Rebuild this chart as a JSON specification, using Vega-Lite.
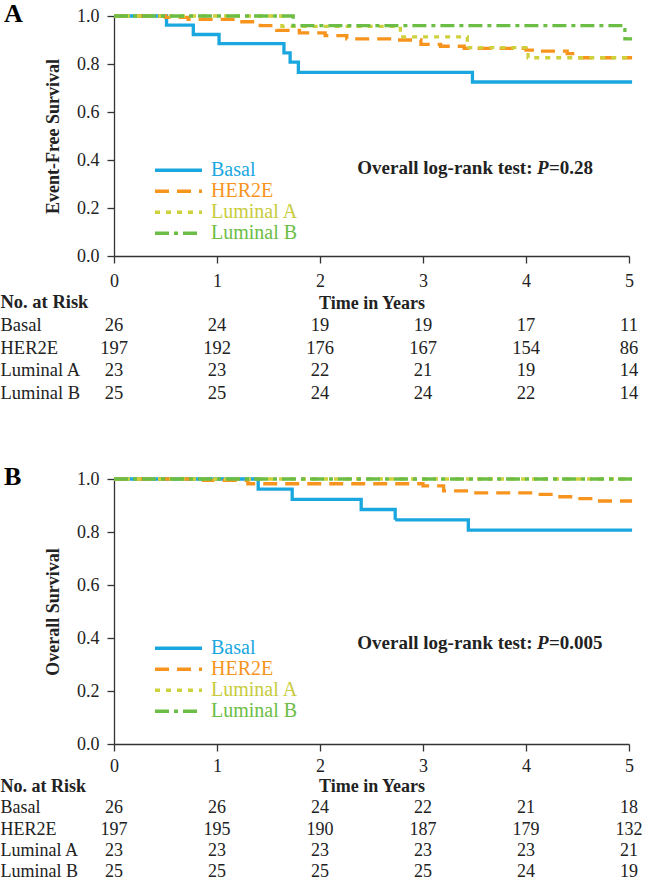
{
  "$schema": "https://vega.github.io/schema/vega-lite/v6.json",
  "background": "white",
  "padding": {"top": 0, "left": 0, "right": 4, "bottom": 0},
  "bounds": "flush",
  "spacing": 32,
  "config": {
    "view": {"stroke": null},
    "axis": {
      "grid": false,
      "domainColor": "#333",
      "domainWidth": 1.3,
      "tickColor": "#333",
      "tickWidth": 1.3,
      "tickSize": 7,
      "labelFont": "Liberation Serif",
      "labelFontSize": 18,
      "labelColor": "#222",
      "titleFont": "Liberation Serif",
      "titleFontSize": 18,
      "titleFontWeight": "bold",
      "titleColor": "#222"
    }
  },
  "resolve": {
    "scale": {"color": "independent", "strokeDash": "independent", "x": "independent", "y": "independent"},
    "legend": {"color": "independent", "strokeDash": "independent"}
  },
  "datasets": {
    "efs": [
      {"group": "Basal", "t": 0, "s": 1},
      {"group": "Basal", "t": 0.51, "s": 0.962},
      {"group": "Basal", "t": 0.77, "s": 0.923},
      {"group": "Basal", "t": 1.02, "s": 0.885},
      {"group": "Basal", "t": 1.65, "s": 0.846},
      {"group": "Basal", "t": 1.71, "s": 0.808},
      {"group": "Basal", "t": 1.79, "s": 0.765},
      {"group": "Basal", "t": 3.48, "s": 0.725},
      {"group": "Basal", "t": 5.03, "s": 0.725},
      {"group": "HER2E", "t": 0, "s": 1},
      {"group": "HER2E", "t": 0.5, "s": 0.994},
      {"group": "HER2E", "t": 0.72, "s": 0.986},
      {"group": "HER2E", "t": 1.22, "s": 0.976},
      {"group": "HER2E", "t": 1.42, "s": 0.96},
      {"group": "HER2E", "t": 1.58, "s": 0.94},
      {"group": "HER2E", "t": 1.8, "s": 0.93},
      {"group": "HER2E", "t": 2.05, "s": 0.918},
      {"group": "HER2E", "t": 2.26, "s": 0.905},
      {"group": "HER2E", "t": 2.73, "s": 0.9},
      {"group": "HER2E", "t": 2.98, "s": 0.882},
      {"group": "HER2E", "t": 3.17, "s": 0.874},
      {"group": "HER2E", "t": 3.4, "s": 0.865},
      {"group": "HER2E", "t": 4.0, "s": 0.858},
      {"group": "HER2E", "t": 4.14, "s": 0.854},
      {"group": "HER2E", "t": 4.4, "s": 0.843},
      {"group": "HER2E", "t": 4.47, "s": 0.826},
      {"group": "HER2E", "t": 5.03, "s": 0.826},
      {"group": "Luminal A", "t": 0, "s": 1},
      {"group": "Luminal A", "t": 1.63, "s": 0.957},
      {"group": "Luminal A", "t": 2.78, "s": 0.913},
      {"group": "Luminal A", "t": 3.43, "s": 0.868},
      {"group": "Luminal A", "t": 4.02, "s": 0.826},
      {"group": "Luminal A", "t": 5.03, "s": 0.826},
      {"group": "Luminal B", "t": 0, "s": 1},
      {"group": "Luminal B", "t": 1.74, "s": 0.96},
      {"group": "Luminal B", "t": 4.96, "s": 0.905},
      {"group": "Luminal B", "t": 5.03, "s": 0.905}
    ],
    "os": [
      {"group": "Basal", "t": 0, "s": 1},
      {"group": "Basal", "t": 1.4, "s": 0.962},
      {"group": "Basal", "t": 1.73, "s": 0.923},
      {"group": "Basal", "t": 2.4, "s": 0.885},
      {"group": "Basal", "t": 2.73, "s": 0.846},
      {"group": "Basal", "t": 3.44, "s": 0.807},
      {"group": "Basal", "t": 5.03, "s": 0.807},
      {"group": "HER2E", "t": 0, "s": 1},
      {"group": "HER2E", "t": 0.87, "s": 0.995},
      {"group": "HER2E", "t": 1.3, "s": 0.982},
      {"group": "HER2E", "t": 3.0, "s": 0.974},
      {"group": "HER2E", "t": 3.2, "s": 0.955},
      {"group": "HER2E", "t": 3.45, "s": 0.948},
      {"group": "HER2E", "t": 4.07, "s": 0.942},
      {"group": "HER2E", "t": 4.26, "s": 0.933},
      {"group": "HER2E", "t": 4.46, "s": 0.926},
      {"group": "HER2E", "t": 4.69, "s": 0.917},
      {"group": "HER2E", "t": 5.03, "s": 0.917},
      {"group": "Luminal A", "t": 0, "s": 1},
      {"group": "Luminal A", "t": 5.03, "s": 1},
      {"group": "Luminal B", "t": 0, "s": 1},
      {"group": "Luminal B", "t": 5.03, "s": 1}
    ],
    "riskA": [
      {"group": "Basal", "t": 0, "n": 26}, {"group": "Basal", "t": 1, "n": 24}, {"group": "Basal", "t": 2, "n": 19}, {"group": "Basal", "t": 3, "n": 19}, {"group": "Basal", "t": 4, "n": 17}, {"group": "Basal", "t": 5, "n": 11},
      {"group": "HER2E", "t": 0, "n": 197}, {"group": "HER2E", "t": 1, "n": 192}, {"group": "HER2E", "t": 2, "n": 176}, {"group": "HER2E", "t": 3, "n": 167}, {"group": "HER2E", "t": 4, "n": 154}, {"group": "HER2E", "t": 5, "n": 86},
      {"group": "Luminal A", "t": 0, "n": 23}, {"group": "Luminal A", "t": 1, "n": 23}, {"group": "Luminal A", "t": 2, "n": 22}, {"group": "Luminal A", "t": 3, "n": 21}, {"group": "Luminal A", "t": 4, "n": 19}, {"group": "Luminal A", "t": 5, "n": 14},
      {"group": "Luminal B", "t": 0, "n": 25}, {"group": "Luminal B", "t": 1, "n": 25}, {"group": "Luminal B", "t": 2, "n": 24}, {"group": "Luminal B", "t": 3, "n": 24}, {"group": "Luminal B", "t": 4, "n": 22}, {"group": "Luminal B", "t": 5, "n": 14}
    ],
    "riskB": [
      {"group": "Basal", "t": 0, "n": 26}, {"group": "Basal", "t": 1, "n": 26}, {"group": "Basal", "t": 2, "n": 24}, {"group": "Basal", "t": 3, "n": 22}, {"group": "Basal", "t": 4, "n": 21}, {"group": "Basal", "t": 5, "n": 18},
      {"group": "HER2E", "t": 0, "n": 197}, {"group": "HER2E", "t": 1, "n": 195}, {"group": "HER2E", "t": 2, "n": 190}, {"group": "HER2E", "t": 3, "n": 187}, {"group": "HER2E", "t": 4, "n": 179}, {"group": "HER2E", "t": 5, "n": 132},
      {"group": "Luminal A", "t": 0, "n": 23}, {"group": "Luminal A", "t": 1, "n": 23}, {"group": "Luminal A", "t": 2, "n": 23}, {"group": "Luminal A", "t": 3, "n": 23}, {"group": "Luminal A", "t": 4, "n": 23}, {"group": "Luminal A", "t": 5, "n": 21},
      {"group": "Luminal B", "t": 0, "n": 25}, {"group": "Luminal B", "t": 1, "n": 25}, {"group": "Luminal B", "t": 2, "n": 25}, {"group": "Luminal B", "t": 3, "n": 25}, {"group": "Luminal B", "t": 4, "n": 24}, {"group": "Luminal B", "t": 5, "n": 19}
    ],
    "pvalA": [{"t": 4.107, "s": 0.367, "a": "Overall log-rank test:", "b": "P", "c": "=0.28"}],
    "pvalB": [{"t": 4.107, "s": 0.381, "a": "Overall log-rank test:", "b": "P", "c": "=0.005"}]
  },
  "vconcat": [
    {
      "width": 515,
      "height": 240,
      "title": {"text": "A", "anchor": "start", "frame": "group", "orient": "top", "offset": -40.5, "dx": -110, "font": "Liberation Serif", "fontSize": 26, "fontWeight": "bold", "color": "#000", "baseline": "alphabetic"},
      "layer": [
        {
          "data": {"name": "efs"},
          "mark": {"type": "line", "interpolate": "step-after", "strokeWidth": 3.3, "strokeCap": "butt"},
          "encoding": {
            "x": {"field": "t", "type": "quantitative", "title": "Time in Years", "scale": {"domain": [0, 5], "nice": false, "zero": false},
              "axis": {"values": [0, 1, 2, 3, 4, 5], "format": "d", "labelPadding": 9, "titlePadding": 4, "labelFlush": false}},
            "y": {"field": "s", "type": "quantitative", "title": "Event-Free Survival", "scale": {"domain": [0, 1], "nice": false},
              "axis": {"values": [0, 0.2, 0.4, 0.6, 0.8, 1], "format": ".1f", "labelPadding": 8, "titlePadding": 14}},
            "color": {"field": "group", "type": "nominal",
              "scale": {"domain": ["Basal", "HER2E", "Luminal A", "Luminal B"], "range": ["#1AA7E0", "#F7941D", "#CDD13C", "#6CBD45"]},
              "legend": {"title": null, "orient": "none", "legendX": 39, "legendY": 144, "padding": 0, "symbolType": "stroke", "symbolSize": 2209, "symbolStrokeWidth": 3.5, "labelFont": "Liberation Serif", "labelFontSize": 20, "labelOffset": 7, "rowPadding": 0, "clipHeight": 20.5,
                "encode": {"labels": {"update": {"fill": {"signal": "datum.value === 'Basal' ? '#1AA7E0' : datum.value === 'HER2E' ? '#F7941D' : datum.value === 'Luminal A' ? '#C8CC3C' : '#6CBD45'"}}}}}},
            "strokeDash": {"field": "group", "type": "nominal",
              "scale": {"domain": ["Basal", "HER2E", "Luminal A", "Luminal B"], "range": [[1, 0], [14, 8], [5, 6], [14, 5, 4, 5]]},
              "legend": {"title": null, "orient": "none", "legendX": 39, "legendY": 144, "padding": 0, "symbolType": "stroke", "symbolSize": 2209, "symbolStrokeWidth": 3.5, "labelFont": "Liberation Serif", "labelFontSize": 20, "labelOffset": 7, "rowPadding": 0, "clipHeight": 20.5,
                "encode": {"labels": {"update": {"fill": {"signal": "datum.value === 'Basal' ? '#1AA7E0' : datum.value === 'HER2E' ? '#F7941D' : datum.value === 'Luminal A' ? '#C8CC3C' : '#6CBD45'"}}}}}}
          }
        },
        {
          "data": {"name": "pvalA"},
          "mark": {"type": "text", "align": "right", "baseline": "middle", "dx": -4.5, "font": "Liberation Serif", "fontSize": 19, "fontWeight": "bold", "color": "#222"},
          "encoding": {"x": {"field": "t", "type": "quantitative", "title": "Time in Years"}, "y": {"field": "s", "type": "quantitative", "title": "Event-Free Survival"}, "text": {"field": "a"}}
        },
        {
          "data": {"name": "pvalA"},
          "mark": {"type": "text", "align": "left", "baseline": "middle", "font": "Liberation Serif", "fontSize": 19, "fontWeight": "bold", "fontStyle": "italic", "color": "#222"},
          "encoding": {"x": {"field": "t", "type": "quantitative", "title": "Time in Years"}, "y": {"field": "s", "type": "quantitative", "title": "Event-Free Survival"}, "text": {"field": "b"}}
        },
        {
          "data": {"name": "pvalA"},
          "mark": {"type": "text", "align": "left", "baseline": "middle", "dx": 12, "font": "Liberation Serif", "fontSize": 19, "fontWeight": "bold", "color": "#222"},
          "encoding": {"x": {"field": "t", "type": "quantitative", "title": "Time in Years"}, "y": {"field": "s", "type": "quantitative", "title": "Event-Free Survival"}, "text": {"field": "c"}}
        }
      ]
    },
    {
      "width": 515,
      "height": 159,
      "data": {"name": "riskA"},
      "mark": {"type": "text", "font": "Liberation Serif", "fontSize": 18.5, "color": "#222", "baseline": "middle"},
      "encoding": {
        "x": {"field": "t", "type": "quantitative", "scale": {"domain": [0, 5], "nice": false, "zero": false}, "axis": null},
        "y": {"field": "group", "type": "nominal",
          "scale": {"type": "band", "domain": ["No. at Risk", "Basal", "HER2E", "Luminal A", "Luminal B"], "paddingInner": 0, "paddingOuter": 1.1136, "align": 0.061},
          "axis": {"title": null, "domain": false, "ticks": false, "labelAlign": "left", "labelPadding": 114, "labelFont": "Liberation Serif", "labelFontSize": 18.5, "labelColor": "#222",
            "labelFontWeight": {"condition": {"test": "datum.value === 'No. at Risk'", "value": "bold"}, "value": "normal"}}},
        "text": {"field": "n"}
      }
    },
    {
      "width": 515,
      "height": 265,
      "title": {"text": "B", "anchor": "start", "frame": "group", "orient": "top", "offset": -40.5, "dx": -110, "font": "Liberation Serif", "fontSize": 26, "fontWeight": "bold", "color": "#000", "baseline": "alphabetic"},
      "layer": [
        {
          "data": {"name": "os"},
          "mark": {"type": "line", "interpolate": "step-after", "strokeWidth": 3.3, "strokeCap": "butt"},
          "encoding": {
            "x": {"field": "t", "type": "quantitative", "title": "Time in Years", "scale": {"domain": [0, 5], "nice": false, "zero": false},
              "axis": {"values": [0, 1, 2, 3, 4, 5], "format": "d", "labelPadding": 6, "titlePadding": 2, "labelFlush": false}},
            "y": {"field": "s", "type": "quantitative", "title": "Overall Survival", "scale": {"domain": [0, 1], "nice": false},
              "axis": {"values": [0, 0.2, 0.4, 0.6, 0.8, 1], "format": ".1f", "labelPadding": 8, "titlePadding": 14}},
            "color": {"field": "group", "type": "nominal",
              "scale": {"domain": ["Basal", "HER2E", "Luminal A", "Luminal B"], "range": ["#1AA7E0", "#F7941D", "#CDD13C", "#6CBD45"]},
              "legend": {"title": null, "orient": "none", "legendX": 39, "legendY": 159, "padding": 0, "symbolType": "stroke", "symbolSize": 2209, "symbolStrokeWidth": 3.5, "labelFont": "Liberation Serif", "labelFontSize": 20, "labelOffset": 7, "rowPadding": 0, "clipHeight": 20.5,
                "encode": {"labels": {"update": {"fill": {"signal": "datum.value === 'Basal' ? '#1AA7E0' : datum.value === 'HER2E' ? '#F7941D' : datum.value === 'Luminal A' ? '#C8CC3C' : '#6CBD45'"}}}}}},
            "strokeDash": {"field": "group", "type": "nominal",
              "scale": {"domain": ["Basal", "HER2E", "Luminal A", "Luminal B"], "range": [[1, 0], [14, 8], [5, 6], [14, 5, 4, 5]]},
              "legend": {"title": null, "orient": "none", "legendX": 39, "legendY": 159, "padding": 0, "symbolType": "stroke", "symbolSize": 2209, "symbolStrokeWidth": 3.5, "labelFont": "Liberation Serif", "labelFontSize": 20, "labelOffset": 7, "rowPadding": 0, "clipHeight": 20.5,
                "encode": {"labels": {"update": {"fill": {"signal": "datum.value === 'Basal' ? '#1AA7E0' : datum.value === 'HER2E' ? '#F7941D' : datum.value === 'Luminal A' ? '#C8CC3C' : '#6CBD45'"}}}}}}
          }
        },
        {
          "data": {"name": "pvalB"},
          "mark": {"type": "text", "align": "right", "baseline": "middle", "dx": -4.5, "font": "Liberation Serif", "fontSize": 19, "fontWeight": "bold", "color": "#222"},
          "encoding": {"x": {"field": "t", "type": "quantitative", "title": "Time in Years"}, "y": {"field": "s", "type": "quantitative", "title": "Overall Survival"}, "text": {"field": "a"}}
        },
        {
          "data": {"name": "pvalB"},
          "mark": {"type": "text", "align": "left", "baseline": "middle", "font": "Liberation Serif", "fontSize": 19, "fontWeight": "bold", "fontStyle": "italic", "color": "#222"},
          "encoding": {"x": {"field": "t", "type": "quantitative", "title": "Time in Years"}, "y": {"field": "s", "type": "quantitative", "title": "Overall Survival"}, "text": {"field": "b"}}
        },
        {
          "data": {"name": "pvalB"},
          "mark": {"type": "text", "align": "left", "baseline": "middle", "dx": 12, "font": "Liberation Serif", "fontSize": 19, "fontWeight": "bold", "color": "#222"},
          "encoding": {"x": {"field": "t", "type": "quantitative", "title": "Time in Years"}, "y": {"field": "s", "type": "quantitative", "title": "Overall Survival"}, "text": {"field": "c"}}
        }
      ]
    },
    {
      "width": 515,
      "height": 107,
      "data": {"name": "riskB"},
      "mark": {"type": "text", "font": "Liberation Serif", "fontSize": 18, "color": "#222", "baseline": "middle"},
      "encoding": {
        "x": {"field": "t", "type": "quantitative", "scale": {"domain": [0, 5], "nice": false, "zero": false}, "axis": null},
        "y": {"field": "group", "type": "nominal",
          "scale": {"type": "band", "domain": ["No. at Risk", "Basal", "HER2E", "Luminal A", "Luminal B"], "paddingInner": 0, "paddingOuter": 0},
          "axis": {"title": null, "domain": false, "ticks": false, "labelAlign": "left", "labelPadding": 114, "labelFont": "Liberation Serif", "labelFontSize": 18, "labelColor": "#222",
            "labelFontWeight": {"condition": {"test": "datum.value === 'No. at Risk'", "value": "bold"}, "value": "normal"}}},
        "text": {"field": "n"}
      }
    }
  ]
}
